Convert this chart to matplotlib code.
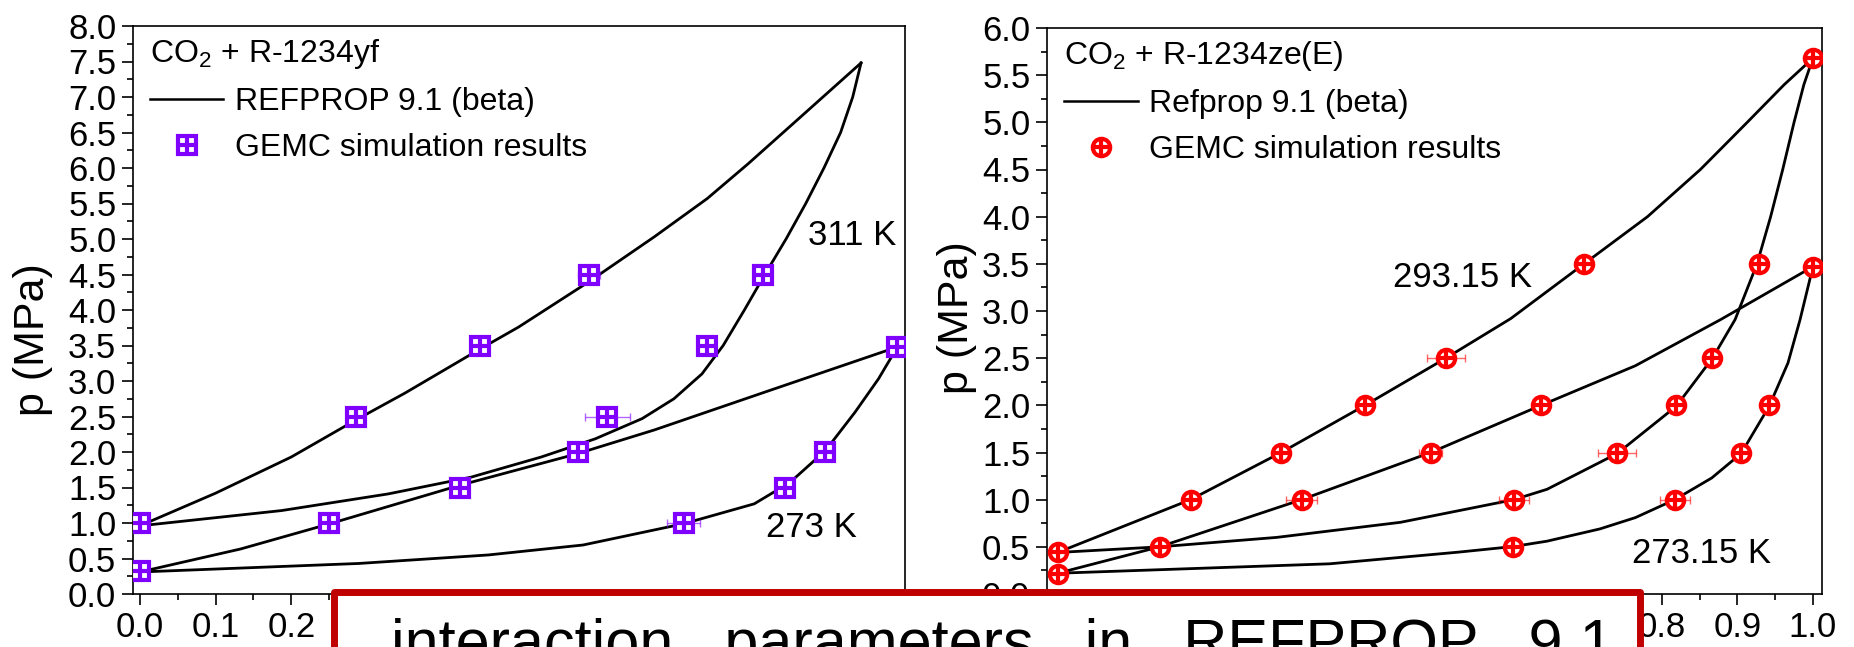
import matplotlib
matplotlib.use('Agg')
import matplotlib.pyplot as plt
from matplotlib.lines import Line2D
from matplotlib.patches import Rectangle
from matplotlib.ticker import MultipleLocator, FormatStrFormatter, FuncFormatter

# CO2 + R-1234yf : REFPROP curves (x = CO2 mole fraction, p in MPa)
yf311_bub_x = [0.0, 0.1, 0.2, 0.285, 0.35, 0.449, 0.5, 0.593, 0.679, 0.749, 0.803, 0.866, 0.952]
yf311_bub_p = [0.96, 1.42, 1.93, 2.45, 2.83, 3.45, 3.76, 4.40, 5.03, 5.57, 6.06, 6.66, 7.48]
yf311_dew_x = [0.0, 0.187, 0.328, 0.437, 0.530, 0.601, 0.663, 0.705, 0.742, 0.770, 0.798, 0.825, 0.853, 0.879, 0.903, 0.925, 0.941, 0.952]
yf311_dew_p = [0.96, 1.175, 1.41, 1.645, 1.93, 2.185, 2.47, 2.75, 3.1, 3.5, 4.0, 4.5, 5.0, 5.5, 6.0, 6.5, 7.0, 7.48]
yf273_bub_x = [0.0, 0.133, 0.25, 0.421, 0.577, 0.679, 0.835, 1.0]
yf273_bub_p = [0.31, 0.634, 0.987, 1.527, 1.974, 2.31, 2.88, 3.48]
yf273_dew_x = [0.0, 0.289, 0.46, 0.585, 0.718, 0.811, 0.858, 0.905, 0.944, 0.975, 1.0]
yf273_dew_p = [0.31, 0.43, 0.55, 0.69, 0.99, 1.27, 1.57, 2.02, 2.56, 3.03, 3.48]

# CO2 + R-1234yf : GEMC points
yf_sim_x = [0.0, 0.0, 0.25, 0.285, 0.423, 0.449, 0.578, 0.593, 0.617, 0.718, 0.749, 0.823, 0.852, 0.905, 1.0]
yf_sim_p = [1.0, 0.32, 1.0, 2.5, 1.5, 3.5, 2.0, 4.5, 2.5, 1.0, 3.5, 4.5, 1.5, 2.0, 3.48]
yf_sim_err = [0, 0, 0.005, 0.005, 0.008, 0.01, 0.01, 0.015, 0.03, 0.022, 0.012, 0.01, 0.008, 0.01, 0.008]

# CO2 + R-1234ze(E) : REFPROP curves
ze293_bub_x = [0.0, 0.176, 0.296, 0.407, 0.514, 0.60, 0.697, 0.781, 0.851, 0.913, 0.962, 1.0]
ze293_bub_p = [0.44, 1.0, 1.5, 2.0, 2.5, 2.92, 3.5, 4.0, 4.5, 5.0, 5.4, 5.68]
ze293_dew_x = [0.0, 0.135, 0.290, 0.454, 0.604, 0.648, 0.741, 0.819, 0.867, 0.897, 0.926, 0.944, 0.960, 0.975, 0.988, 1.0]
ze293_dew_p = [0.44, 0.50, 0.60, 0.76, 1.0, 1.11, 1.49, 1.99, 2.5, 2.91, 3.5, 4.0, 4.5, 5.0, 5.4, 5.68]
ze273_bub_x = [0.0, 0.135, 0.323, 0.494, 0.640, 0.765, 0.878, 1.0]
ze273_bub_p = [0.22, 0.5, 1.0, 1.5, 2.0, 2.42, 2.91, 3.47]
ze273_dew_x = [0.0, 0.36, 0.531, 0.603, 0.648, 0.718, 0.765, 0.817, 0.866, 0.905, 0.942, 0.967, 0.983, 1.0]
ze273_dew_p = [0.22, 0.32, 0.444, 0.503, 0.56, 0.69, 0.81, 1.0, 1.23, 1.49, 1.99, 2.45, 2.91, 3.47]

# CO2 + R-1234ze(E) : GEMC points
ze_sim_x = [0.0, 0.0, 0.135, 0.176, 0.296, 0.407, 0.514, 0.697, 0.323, 0.494, 0.640,
            0.604, 0.741, 0.819, 0.867, 0.928, 1.0, 1.0, 0.603, 0.817, 0.905, 0.942]
ze_sim_p = [0.45, 0.21, 0.5, 1.0, 1.5, 2.0, 2.5, 3.5, 1.0, 1.5, 2.0,
            1.0, 1.5, 2.0, 2.5, 3.5, 5.68, 3.47, 0.5, 1.0, 1.5, 2.0]
ze_sim_err = [0, 0, 0.005, 0.008, 0.008, 0.01, 0.025, 0.008, 0.02, 0.015, 0.008,
              0.02, 0.025, 0.01, 0.008, 0.008, 0.005, 0.005, 0.008, 0.02, 0.008, 0.008]

PURPLE = '#7f00ff'
RED = '#ff0000'
MS = 12.5
MEW = 3.0

plt.rcParams['font.family'] = ['Liberation Sans', 'DejaVu Sans']
plt.rcParams['mathtext.fontset'] = 'custom'
plt.rcParams['mathtext.rm'] = 'Liberation Sans'
plt.rcParams['mathtext.it'] = 'Liberation Sans:italic'
plt.rcParams['font.size'] = 25

fig = plt.figure(figsize=(18.54, 6.47), dpi=100)
ax1 = fig.add_axes([133 / 1854, 53 / 647, 772 / 1854, 568 / 647])
ax2 = fig.add_axes([1047 / 1854, 53 / 647, 775 / 1854, 566 / 647])


def draw_sim(ax, x, p, err, color, mk):
    ax.errorbar(x, p, xerr=err, fmt='none', ecolor=color, elinewidth=1, capsize=3, alpha=0.6, zorder=3)
    ax.plot(x, p, mk, ls='none', ms=MS, mfc='white', mec=color, mew=MEW, zorder=4)
    ax.plot(x, p, '+', ls='none', ms=MS, color=color, mew=MEW, zorder=5)


# 左のグラフ: CO2 + R-1234yf
for xs, ps in [(yf311_bub_x, yf311_bub_p), (yf311_dew_x, yf311_dew_p),
               (yf273_bub_x, yf273_bub_p), (yf273_dew_x, yf273_dew_p)]:
    ax1.plot(xs, ps, color='black', lw=2.0, zorder=2)
draw_sim(ax1, yf_sim_x, yf_sim_p, yf_sim_err, PURPLE, 's')
ax1.text(0.882, 5.05, '311 K', va='center', ha='left')
ax1.text(0.826, 0.93, '273 K', va='center', ha='left')
ax1.set_xlim(-0.009, 1.01)
ax1.set_ylim(0, 8)
# 赤枠に隠れる目盛ラベルは描かない
ax1.xaxis.set_major_formatter(FuncFormatter(lambda v, pos: '' if v > 0.25 else f'{v:.1f}'))

# 右のグラフ: CO2 + R-1234ze(E)
for xs, ps in [(ze293_bub_x, ze293_bub_p), (ze293_dew_x, ze293_dew_p),
               (ze273_bub_x, ze273_bub_p), (ze273_dew_x, ze273_dew_p)]:
    ax2.plot(xs, ps, color='black', lw=2.0, zorder=2)
draw_sim(ax2, ze_sim_x, ze_sim_p, ze_sim_err, RED, 'o')
ax2.text(0.444, 3.35, '293.15 K', va='center', ha='left')
ax2.text(0.76, 0.43, '273.15 K', va='center', ha='left')
ax2.set_xlim(-0.014, 1.012)
ax2.set_ylim(0, 6)
ax2.xaxis.set_major_formatter(FuncFormatter(lambda v, pos: '' if v < 0.75 else f'{v:.1f}'))

for ax, title, line_lbl, color, mk in [(ax1, 'CO$_2$ + R-1234yf', 'REFPROP 9.1 (beta)', PURPLE, 's'),
                                      (ax2, 'CO$_2$ + R-1234ze(E)', 'Refprop 9.1 (beta)', RED, 'o')]:
    ax.xaxis.set_major_locator(MultipleLocator(0.1))
    ax.xaxis.set_minor_locator(MultipleLocator(0.05))
    ax.yaxis.set_major_locator(MultipleLocator(0.5))
    ax.yaxis.set_minor_locator(MultipleLocator(0.25))
    ax.yaxis.set_major_formatter(FormatStrFormatter('%.1f'))
    ax.tick_params(which='major', direction='out', length=8, width=1.2, labelsize=25, pad=4)
    ax.tick_params(which='minor', direction='out', length=4.5, width=1.2)
    for sp in ax.spines.values():
        sp.set_linewidth(1.2)
    line_h = Line2D([], [], color='black', lw=1.8)
    m1 = Line2D([], [], marker=mk, ls='none', ms=MS, mfc='white', mec=color, mew=MEW)
    m2 = Line2D([], [], marker='+', ls='none', ms=MS, color=color, mew=MEW)
    ax.legend([line_h, (m1, m2)], [line_lbl, 'GEMC simulation results'],
              title=title, title_fontsize=23, fontsize=23, loc='upper left',
              bbox_to_anchor=(0.022, 0.98), frameon=False, alignment='left',
              handlelength=2.3, handletextpad=0.35, labelspacing=0.5,
              borderpad=0, borderaxespad=0)

fig.text(33 / 1854, 1 - 340 / 647, 'p (MPa)', rotation=90, ha='center', va='center', fontsize=31)
fig.text(957 / 1854, 1 - 318 / 647, 'p (MPa)', rotation=90, ha='center', va='center', fontsize=31)

# 手前の赤枠ボックス
box = Rectangle((333.5 / 1854, -13 / 647), (1639.5 - 333.5) / 1854, (55.5 + 13) / 647,
                transform=fig.transFigure, facecolor='white', edgecolor='#c00000',
                linewidth=5, joinstyle='round', zorder=10)
fig.add_artist(box)
fig.text(391 / 1854, 1 - 662 / 647, 'interaction   parameters   in   REFPROP   9.1',
         ha='left', va='baseline', fontsize=44, zorder=11)

fig.savefig('out.png', dpi=100)
